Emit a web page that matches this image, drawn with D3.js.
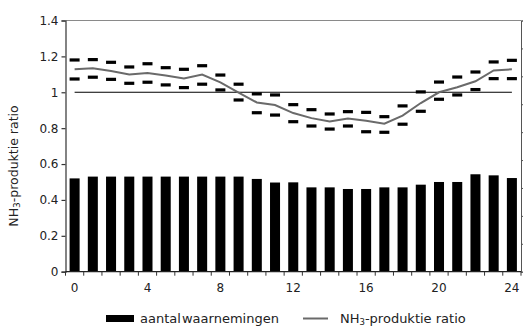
<!DOCTYPE html>
<html>
<head>
<meta charset="utf-8">
<script src="https://cdn.jsdelivr.net/npm/d3@7"></script>
<style>
  body { margin: 0; background: #fff; }
  svg text { font-family: "DejaVu Sans", sans-serif; fill: #222; }
</style>
</head>
<body>
<svg id="chart" width="523" height="327"></svg>
<script>
// hour of the day
var hours = [0,1,2,3,4,5,6,7,8,9,10,11,12,13,14,15,16,17,18,19,20,21,22,23,24];
// bars: aantal waarnemingen (read against the left axis)
var counts = [0.52,0.53,0.53,0.53,0.53,0.53,0.53,0.53,0.53,0.53,0.517,0.497,0.498,0.47,0.47,0.461,0.461,0.47,0.47,0.485,0.50,0.50,0.543,0.537,0.522];
// NH3-produktie ratio and its upper / lower markers
var ratio = [1.128,1.134,1.119,1.099,1.108,1.094,1.077,1.099,1.055,0.998,0.943,0.929,0.884,0.856,0.837,0.854,0.841,0.825,0.87,0.94,1.0,1.028,1.061,1.122,1.128];
var upper = [1.180,1.182,1.167,1.141,1.159,1.137,1.128,1.148,1.096,1.045,0.991,0.985,0.931,0.903,0.879,0.892,0.888,0.864,0.924,1.002,1.057,1.085,1.113,1.169,1.178];
var lower = [1.074,1.084,1.072,1.050,1.056,1.041,1.026,1.045,1.013,0.957,0.886,0.873,0.836,0.812,0.795,0.812,0.780,0.777,0.822,0.894,0.961,0.985,1.015,1.076,1.076];
var refValue = 1;
var yTicks = [0,0.2,0.4,0.6,0.8,1,1.2,1.4];
var xLabels = [0,4,8,12,16,20,24];

var svg = d3.select("#chart");
var margin = {left: 65.5, right: 2, top: 20.5, bottom: 55.3};
var W = 523, H = 327;

var x = d3.scaleBand().domain(hours)
    .range([margin.left, W - margin.right])
    .paddingInner(0.45).paddingOuter(0.225);
var step = x.step();
var cx = function (h) { return x(h) + x.bandwidth() / 2; };
var y = d3.scaleLinear().domain([0, 1.4]).range([H - margin.bottom, margin.top]);

// frame (top + right secondary axis)
svg.append("line")
    .attr("x1", margin.left).attr("x2", W - margin.right)
    .attr("y1", margin.top).attr("y2", margin.top)
    .style("stroke", "#8a8a8a").style("stroke-width", 1);
var y2 = d3.scaleLinear().domain([0, 9]).range(y.range());
svg.append("g")
    .attr("transform", "translate(" + (W - margin.right) + ",0)")
    .call(d3.axisRight(y2).ticks(9).tickSize(4).tickFormat(""))
    .call(function (g) {
        g.selectAll("path,line").style("stroke", "#555");
    });

// bars
svg.append("g").selectAll("rect")
    .data(hours).enter().append("rect")
    .attr("x", function (h) { return x(h); })
    .attr("y", function (h, i) { return y(counts[i]); })
    .attr("width", x.bandwidth())
    .attr("height", function (h, i) { return y(0) - y(counts[i]); })
    .style("fill", "#000");

// reference line at 1
svg.append("line")
    .attr("x1", cx(hours[0])).attr("x2", cx(hours[hours.length - 1]))
    .attr("y1", y(refValue)).attr("y2", y(refValue))
    .style("stroke", "#000").style("stroke-width", 1.2);

// ratio line
var line = d3.line()
    .x(function (d) { return cx(d[0]); })
    .y(function (d) { return y(d[1]); });
svg.append("path")
    .datum(hours.map(function (h, i) { return [h, ratio[i]]; }))
    .attr("d", line)
    .style("fill", "none")
    .style("stroke", "#6a6a6a")
    .style("stroke-width", 2);

// upper / lower dash markers
var markers = [];
hours.forEach(function (h, i) {
    markers.push([h, upper[i]]);
    markers.push([h, lower[i]]);
});
svg.append("g").selectAll("rect")
    .data(markers).enter().append("rect")
    .attr("x", function (d) { return cx(d[0]) - 5; })
    .attr("y", function (d) { return y(d[1]) - 1.6; })
    .attr("width", 10)
    .attr("height", 3.2)
    .style("fill", "#000");

// left axis
var yAxis = svg.append("g")
    .attr("transform", "translate(" + margin.left + ",0)")
    .call(d3.axisLeft(y).tickValues(yTicks).tickSize(4).tickPadding(3)
        .tickFormat(function (d) { return String(d); }));
yAxis.selectAll("path,line").style("stroke", "#333").style("stroke-width", 1.2);
yAxis.selectAll("text").style("font-size", "12px").style("fill", "#222");

// x axis: ticks between categories, labels every 4 hours
var xAxisG = svg.append("g").attr("transform", "translate(0," + y(0) + ")");
xAxisG.append("line")
    .attr("x1", margin.left).attr("x2", W - margin.right)
    .style("stroke", "#222").style("stroke-width", 1.2);
xAxisG.selectAll(".tk")
    .data(hours.concat([hours.length])).enter().append("line")
    .attr("class", "tk")
    .attr("x1", function (h, i) { return margin.left + i * step; })
    .attr("x2", function (h, i) { return margin.left + i * step; })
    .attr("y1", 0).attr("y2", 4)
    .style("stroke", "#333");
xAxisG.selectAll(".lbl")
    .data(xLabels).enter().append("text")
    .attr("class", "lbl")
    .attr("x", function (h) { return cx(h); })
    .attr("y", 20)
    .attr("text-anchor", "middle")
    .style("font-size", "12px")
    .text(function (h) { return h; });

// y title
var yt = svg.append("text")
    .attr("transform", "translate(18,166) rotate(-90)")
    .attr("text-anchor", "middle")
    .style("font-size", "12.5px");
yt.append("tspan").text("NH");
yt.append("tspan").attr("baseline-shift", "-25%").style("font-size", "9px").text("3");
yt.append("tspan").text("-produktie ratio");

// legend
var lg = svg.append("g").attr("transform", "translate(0,318.5)");
lg.append("rect").attr("x", 106).attr("y", -3.5).attr("width", 28).attr("height", 7).style("fill", "#000");
lg.append("text").attr("x", 140).attr("y", 4.3).style("font-size", "13px")
    .style("word-spacing", "-3px").text("aantal waarnemingen");
lg.append("line").attr("x1", 303).attr("x2", 328).attr("y1", 0).attr("y2", 0)
    .style("stroke", "#6a6a6a").style("stroke-width", 2);
var lt = lg.append("text").attr("x", 340).attr("y", 4.3).style("font-size", "13px");
lt.append("tspan").text("NH");
lt.append("tspan").attr("baseline-shift", "-20%").style("font-size", "8.5px").text("3");
lt.append("tspan").text("-produktie ratio");
</script>
</body>
</html>
